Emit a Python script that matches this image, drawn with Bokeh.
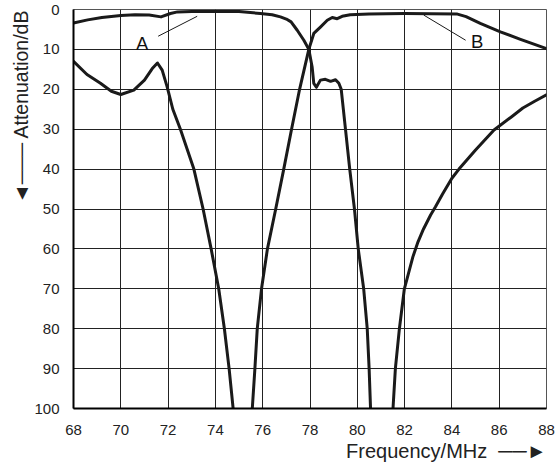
from bokeh.plotting import figure
from bokeh.models import Range1d, FixedTicker, Label, ColumnDataSource, Title
from bokeh.embed import file_html
from bokeh.resources import INLINE

# Frequency response of two filters (attenuation in dB vs. frequency in MHz)
freq_a = [68, 68.6, 69.2, 70.0, 70.6, 71.2, 71.7, 72.1, 72.4, 73, 74, 75, 75.9, 76.4,
          76.75, 77.0, 77.2, 77.46, 77.74, 77.95, 78.09, 78.16, 78.27, 78.44, 78.65,
          78.87, 79.08, 79.22, 79.32, 79.5, 79.68, 79.88, 80.04, 80.27, 80.42, 80.5,
          80.56, 81.0, 81.51, 81.61, 81.78, 81.99, 82.35, 82.55, 82.8, 83.1, 83.3,
          83.6, 84.0, 84.3, 85.0, 85.78, 86.5, 87.0, 87.5, 88]
att_a = [3.4, 2.6, 2.0, 1.5, 1.3, 1.4, 1.85, 1.0, 0.6, 0.5, 0.5, 0.5, 1.0, 1.3,
         1.85, 2.4, 3.1, 5.2, 7.7, 10, 14.4, 18.5, 19.5, 17.7, 17.5,
         18, 17.6, 18.5, 20, 30, 40, 50, 60, 70, 80, 90,
         100, 115, 100, 90, 80, 70, 62, 58.5, 55, 51.5, 49.5,
         46.3, 42.3, 40, 35.2, 30.2, 27, 24.7, 23, 21.4]

freq_b = [68, 68.57, 69.14, 69.6, 70.0, 70.55, 71.0, 71.33, 71.55, 71.75, 71.96, 72.2,
          72.52, 73.09, 73.48, 73.82, 74.14, 74.38, 74.58, 74.75, 75.15, 75.56, 75.67,
          75.77, 75.95, 76.2, 76.55, 76.89, 77.22, 77.56, 77.95, 78.16, 78.44, 78.73,
          78.94, 79.15, 79.36, 79.7, 80.5, 82.0, 84.2, 84.6, 85.2, 86.05, 86.9, 88]
att_b = [13, 16.3, 18.5, 20.5, 21.3, 20.2, 17.7, 14.8, 13.4, 15.2, 19.4, 25,
         30, 40, 50, 60, 70, 80, 90, 100, 115, 100, 90,
         80, 70, 60, 50, 40, 30, 20, 10, 6, 4.4, 2.7,
         2.0, 2.3, 1.7, 1.3, 1.1, 1.0, 1.1, 1.8, 3.5, 5.6, 7.5, 9.8]

x_ticks = list(range(68, 89, 2))
y_ticks = list(range(0, 101, 10))

# curve labels with their leader lines: (text, x, y), leader (x0, y0, x1, y1)
label_a = ("A", 70.9, 8.4)
leader_a = (71.58, 6.7, 73.23, 1.7)
label_b = ("B", 85.07, 8.1)
leader_b = (84.58, 7.7, 82.81, 1.4)

FONT = "Liberation Sans"

p = figure(width=557, height=468, output_backend="svg", toolbar_location=None,
           x_range=Range1d(68, 88), y_range=Range1d(100, 0),
           min_border_left=73, min_border_right=11, min_border_top=9,
           min_border_bottom=60)

p.outline_line_color = "#555555"
p.outline_line_width = 1
p.background_fill_color = "white"
p.border_fill_color = "white"

for ax in (p.xaxis[0], p.yaxis[0]):
    ax.axis_line_color = "black"
    ax.axis_line_width = 2
    ax.major_tick_line_color = None
    ax.minor_tick_line_color = None
    ax.major_tick_out = 0
    ax.major_tick_in = 0
    ax.major_label_text_font = FONT
    ax.major_label_text_font_size = "15px"
    ax.major_label_text_color = "#222222"

p.xaxis.ticker = FixedTicker(ticks=x_ticks)
p.yaxis.ticker = FixedTicker(ticks=y_ticks)
p.xaxis.major_label_standoff = 16
p.yaxis.major_label_standoff = 14
p.yaxis.major_label_text_align = "center"

p.xgrid.ticker = FixedTicker(ticks=x_ticks)
p.ygrid.ticker = FixedTicker(ticks=y_ticks)
for g in (p.xgrid[0], p.ygrid[0]):
    g.grid_line_color = "#222222"
    g.grid_line_width = 1
    g.grid_line_alpha = 1

src_a = ColumnDataSource(dict(f=freq_a, a=att_a))
src_b = ColumnDataSource(dict(f=freq_b, a=att_b))
for src in (src_a, src_b):
    p.line("f", "a", source=src, line_color="#1a1a1a", line_width=3,
           line_join="round", line_cap="round")

# leader lines
for (x0, y0, x1, y1) in (leader_a, leader_b):
    p.line([x0, x1], [y0, y1], line_color="#1a1a1a", line_width=1)

for (txt, lx, ly) in (label_a, label_b):
    p.add_layout(Label(x=lx, y=ly, text=txt, text_font=FONT, text_font_size="18.5px",
                       text_align="center", text_baseline="middle", text_color="#111111"))

# axis titles with direction arrows, placed at the far end of each axis
p.add_layout(Title(text="\u25c4\u2500\u2500\u2500 Attenuation/dB", align="right",
                   text_font=FONT, text_font_size="19.5px", text_font_style="normal",
                   text_color="#222222", standoff=0), "left")
p.add_layout(Title(text="Frequency/MHz\u00a0 \u2500\u2500\u25ba", align="right",
                   text_font=FONT, text_font_size="20px", text_font_style="normal",
                   text_color="#222222", standoff=0, offset=0), "below")

open("out.html", "w").write(file_html(p, INLINE))
